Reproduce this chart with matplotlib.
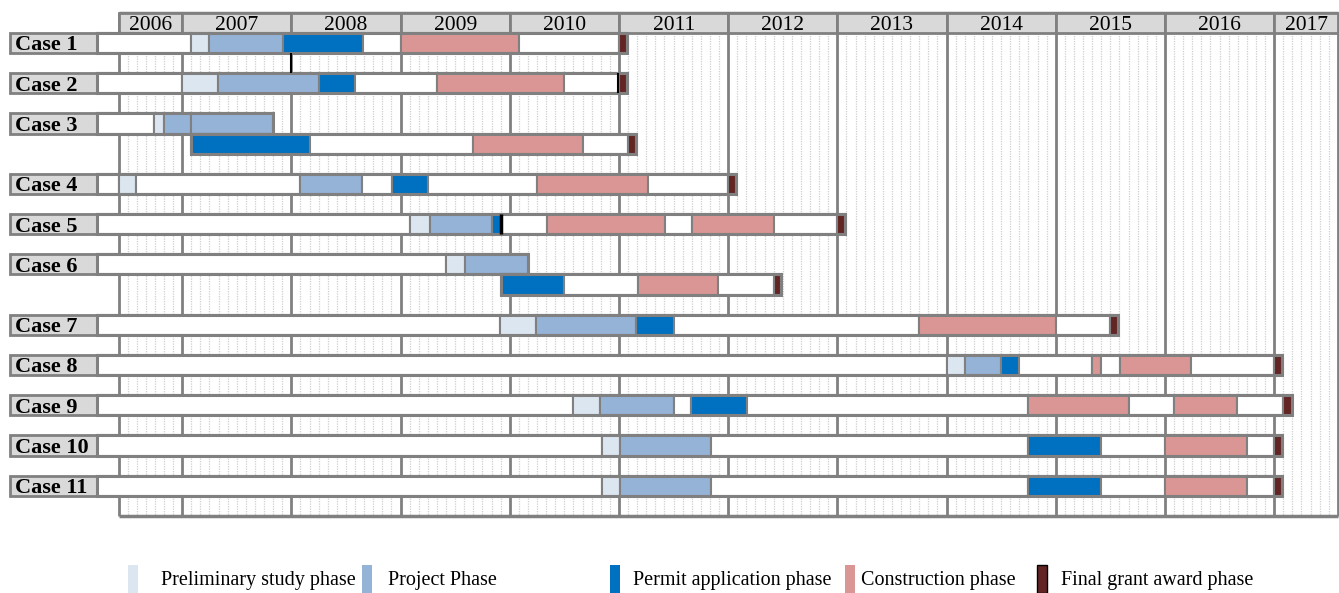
import numpy as np
import matplotlib
matplotlib.use('Agg')
import matplotlib.pyplot as plt
from matplotlib.patches import Rectangle

plt.rcParams['font.family'] = ['Liberation Serif', 'DejaVu Serif']

# time axis (decimal years)
years = list(range(2006, 2018))
chart_start = 2006 + 5/12
chart_end = 2017 + 7/12
row_start = 2006.22
label_left = 2005.42

phase_colors = {'w': 'white', 'pre': '#dce6f1', 'proj': '#95b3d7',
                'permit': '#0070c0', 'constr': '#da9694', 'final': '#632523'}

legend_labels = ['Preliminary study phase', 'Project Phase', 'Permit application phase',
                 'Construction phase', 'Final grant award phase']
legend_keys = ['pre', 'proj', 'permit', 'constr', 'final']

# segment boundaries and phases per case
case1_edges = [row_start, 2007.08, 2007.25, 2007.92, 2008.66, 2009.00, 2010.08, 2011.00, 2011.07]
case1_phases = ['w', 'pre', 'proj', 'permit', 'w', 'constr', 'w', 'final']

case2_edges = [row_start, 2007.00, 2007.33, 2008.25, 2008.58, 2009.33, 2010.50, 2011.00, 2011.07]
case2_phases = ['w', 'pre', 'proj', 'permit', 'w', 'constr', 'w', 'final']

case3a_edges = [row_start, 2006.74, 2006.83, 2007.08, 2007.83]
case3a_phases = ['w', 'pre', 'proj', 'proj']
case3b_edges = [2007.085, 2008.17, 2009.66, 2010.67, 2011.08, 2011.16]
case3b_phases = ['permit', 'w', 'constr', 'w', 'final']

case4_edges = [row_start, 2006.42, 2006.58, 2008.08, 2008.65, 2008.92, 2009.25, 2010.25, 2011.27, 2012.00, 2012.07]
case4_phases = ['w', 'pre', 'w', 'proj', 'w', 'permit', 'w', 'constr', 'w', 'final']

case5_edges = [row_start, 2009.09, 2009.27, 2009.84, 2009.92, 2010.34, 2011.42, 2011.67, 2012.42, 2013.00, 2013.07]
case5_phases = ['w', 'pre', 'proj', 'permit', 'w', 'constr', 'w', 'constr', 'w', 'final']

case6a_edges = [row_start, 2009.42, 2009.59, 2010.17]
case6a_phases = ['w', 'pre', 'proj']
case6b_edges = [2009.92, 2010.50, 2011.17, 2011.91, 2012.42, 2012.48]
case6b_phases = ['permit', 'w', 'constr', 'w', 'final']

case7_edges = [row_start, 2009.91, 2010.24, 2011.16, 2011.50, 2013.75, 2015.00, 2015.50, 2015.57]
case7_phases = ['w', 'pre', 'proj', 'permit', 'w', 'constr', 'w', 'final']

case8_edges = [row_start, 2014.00, 2014.17, 2014.50, 2014.66, 2015.33, 2015.41, 2015.585, 2016.24, 2017.00, 2017.07]
case8_phases = ['w', 'pre', 'proj', 'permit', 'w', 'constr', 'w', 'constr', 'w', 'final']

case9_edges = [row_start, 2010.575, 2010.83, 2011.50, 2011.66, 2012.17, 2014.75, 2015.67, 2016.08, 2016.66, 2017.08, 2017.16]
case9_phases = ['w', 'pre', 'proj', 'w', 'permit', 'w', 'constr', 'w', 'constr', 'w', 'final']

case10_edges = [row_start, 2010.84, 2011.01, 2011.84, 2014.75, 2015.41, 2016.00, 2016.75, 2017.00, 2017.07]
case10_phases = ['w', 'pre', 'proj', 'w', 'permit', 'w', 'constr', 'w', 'final']

case11_edges = list(case10_edges)
case11_phases = list(case10_phases)

# milestone ticks (time, row slot, width)
milestones = [(2008.00, 1, 1.5), (2010.99, 2, 1.5), (2009.915, 9, 2.5)]

rows = [
    (0, 'Case 1', case1_edges, case1_phases),
    (2, 'Case 2', case2_edges, case2_phases),
    (4, 'Case 3', case3a_edges, case3a_phases),
    (5, None, case3b_edges, case3b_phases),
    (7, 'Case 4', case4_edges, case4_phases),
    (9, 'Case 5', case5_edges, case5_phases),
    (11, 'Case 6', case6a_edges, case6a_phases),
    (12, None, case6b_edges, case6b_phases),
    (14, 'Case 7', case7_edges, case7_phases),
    (16, 'Case 8', case8_edges, case8_phases),
    (18, 'Case 9', case9_edges, case9_phases),
    (20, 'Case 10', case10_edges, case10_phases),
    (22, 'Case 11', case11_edges, case11_phases),
]
n_slots = 24
grey = '#808080'

fig = plt.figure(figsize=(13.39, 5.93), dpi=100)
ax = fig.add_axes([0, 0, 1, 1])
ax.set_xlim(2011 - 619/109.2, 2011 + 720/109.2)
ax.set_ylim(27.83, -1.64)
ax.axis('off')

# monthly dotted grid + year lines
months = np.arange(chart_start + 1/12, chart_end, 1/12)
ax.vlines(months, 0, n_slots, color='#cfcfcf', lw=0.9, linestyles=(0, (1, 1)), zorder=0)
ax.vlines(years[1:], -1, n_slots, color=grey, lw=2, zorder=1)
ax.vlines([chart_start, chart_end], -1, n_slots, color=grey, lw=2, zorder=1)
ax.hlines([-1, n_slots], chart_start, chart_end, color=grey, lw=2.5, zorder=1)

# year header
for y in years:
    left = max(y, chart_start)
    right = min(y + 1, chart_end)
    ax.barh(-0.5, right - left, left=left, height=1, color='#d9d9d9',
            edgecolor=grey, lw=2, zorder=2)
    ax.text((left + right) / 2, -0.36, str(y), ha='center', va='center',
            fontsize=15.5, zorder=3)

# case rows
for slot, label, edges, phases in rows:
    edges = np.array(edges)
    ax.barh(slot + 0.5, np.diff(edges), left=edges[:-1], height=1,
            color=[phase_colors[p] for p in phases], edgecolor=grey, lw=1.5, zorder=3)
    ax.add_patch(Rectangle((edges[0], slot), edges[-1] - edges[0], 1, fill=False,
                           edgecolor=grey, lw=2.2, zorder=4))
    if label:
        ax.barh(slot + 0.5, row_start - label_left, left=label_left, height=1,
                color='#d9d9d9', edgecolor=grey, lw=2, zorder=3)
        ax.text(label_left + 0.05, slot + 0.62, label, ha='left', va='center',
                fontsize=16, fontweight='bold', zorder=5)

for t, slot, w in milestones:
    ax.vlines(t, slot, slot + 1, color='black', lw=w, zorder=5)

# legend along the bottom
marker_x = [128, 362, 610, 845, 1037]
text_x = [161, 388, 633, 861, 1061]
for mx, tx, key, lab in zip(marker_x, text_x, legend_keys, legend_labels):
    ec = 'black' if key == 'final' else 'none'
    fig.add_artist(Rectangle((mx / 1339, 0), 10 / 1339, 28 / 593, transform=fig.transFigure,
                             facecolor=phase_colors[key], edgecolor=ec, lw=1))
    fig.text(tx / 1339, 1 - 580 / 593, lab, ha='left', va='center', fontsize=14.5)

fig.savefig('out.png', dpi=100)
